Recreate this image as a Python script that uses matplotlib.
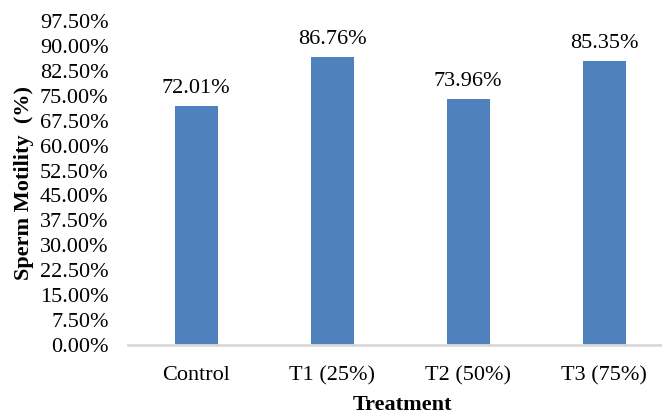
import numpy as np
import matplotlib.pyplot as plt
from matplotlib.ticker import FuncFormatter

treatments = ["Control", "T1 (25%)", "T2 (50%)", "T3 (75%)"]
motility = [72.01, 86.76, 73.96, 85.35]
y_ticks = [0.0, 7.5, 15.0, 22.5, 30.0, 37.5, 45.0, 52.5, 60.0, 67.5, 75.0, 82.5, 90.0, 97.5]

plt.rcParams["font.family"] = ["Liberation Serif", "DejaVu Serif"]
plt.rcParams["font.size"] = 16

fig = plt.figure(figsize=(6.62, 4.15), dpi=100)
ax = fig.add_axes([0.1934, 0.1687, 0.8218, 0.7806])

x = np.arange(len(treatments))
bars = ax.bar(x, motility, width=0.316, color="#4F81BD", zorder=2)

# value labels above each bar
for rect, val in zip(bars, motility):
    ax.text(
        rect.get_x() + rect.get_width() / 2,
        val + 2.4,
        f"{val:.2f}%",
        ha="center",
        va="bottom",
        fontsize=16,
    )

ax.set_xlim(-0.5, len(treatments) - 0.5)
ax.set_ylim(0, 97.5)
ax.set_yticks(y_ticks)
ax.yaxis.set_major_formatter(FuncFormatter(lambda v, _: f"{v:.2f}%"))
ax.set_xticks(x)
ax.set_xticklabels(treatments)

for side in ["top", "right", "left"]:
    ax.spines[side].set_visible(False)
ax.spines["bottom"].set_color("#D9D9D9")
ax.spines["bottom"].set_linewidth(2)
ax.tick_params(axis="both", length=0, labelsize=16)
ax.tick_params(axis="x", pad=15)
ax.tick_params(axis="y", pad=14)

ax.set_xlabel("Treatment", fontweight="bold", fontsize=16)
ax.set_ylabel("Sperm Motility  (%)", fontweight="bold", fontsize=16)
ax.xaxis.set_label_coords((402 - 128) / (672 - 128), -0.155)
ax.yaxis.set_label_coords(-0.172, 0.5)

fig.savefig("out.png", dpi=100)
plt.close(fig)
